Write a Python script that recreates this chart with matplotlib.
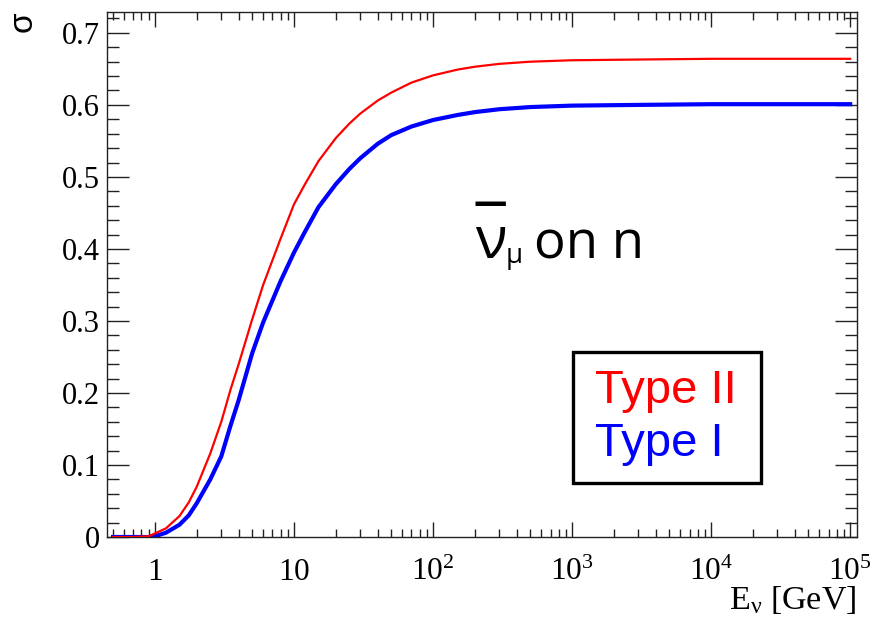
import matplotlib
matplotlib.use("Agg")
import matplotlib.pyplot as plt
from matplotlib.ticker import FixedLocator, MultipleLocator, NullFormatter

# ---- data ----
energy = [0.5, 0.7, 0.9, 1.0, 1.2, 1.5, 1.75, 2.0, 2.5, 3.0, 3.5, 4.0, 5.0, 6.0,
          8.0, 10, 12, 15, 20, 25, 30, 40, 50, 70, 100, 150, 200, 300, 500,
          1000, 3000, 1e4, 1e5]
sigma_type2 = [0.0, 0.0, 0.001, 0.005, 0.012, 0.029, 0.048, 0.07, 0.116, 0.16,
               0.205, 0.24, 0.302, 0.35, 0.414, 0.462, 0.49, 0.522, 0.554, 0.574,
               0.588, 0.606, 0.617, 0.631, 0.641, 0.649, 0.653, 0.657, 0.660,
               0.662, 0.663, 0.664, 0.664]
sigma_type1 = [0.0, 0.0, 0.0, 0.001, 0.006, 0.017, 0.03, 0.047, 0.08, 0.112,
               0.155, 0.19, 0.255, 0.298, 0.355, 0.395, 0.424, 0.458, 0.49,
               0.511, 0.526, 0.546, 0.558, 0.57, 0.579, 0.586, 0.59, 0.594,
               0.597, 0.599, 0.600, 0.601, 0.601]
series_labels = ["Type II", "Type I"]
xtick_values = [1, 10, 100, 1e3, 1e4, 1e5]
xtick_labels = [r"$\mathregular{1}$", r"$\mathregular{10}$", r"$\mathregular{10^{2}}$",
                r"$\mathregular{10^{3}}$", r"$\mathregular{10^{4}}$", r"$\mathregular{10^{5}}$"]
ytick_values = [0, 0.1, 0.2, 0.3, 0.4, 0.5, 0.6, 0.7]
ytick_labels = ["0", "0.1", "0.2", "0.3", "0.4", "0.5", "0.6", "0.7"]

plt.rcParams["mathtext.fontset"] = "custom"
plt.rcParams["mathtext.rm"] = "Liberation Serif"
plt.rcParams["mathtext.it"] = "Liberation Serif:italic"
plt.rcParams["mathtext.sf"] = "Open Sans"

fig = plt.figure(figsize=(8.8, 6.2), dpi=100)
ax = fig.add_axes([107 / 880, 1 - 537 / 620, 750 / 880, 525 / 620])

ax.plot(energy, sigma_type1, color="#0000ff", lw=3.0, label=series_labels[1], zorder=2)
ax.plot(energy, sigma_type2, color="#ff0000", lw=1.6, label=series_labels[0], zorder=3)

ax.set_xscale("log")
ax.set_xlim(0.452, 1.12e5)
ax.set_ylim(0, 0.729)

ax.xaxis.set_major_locator(FixedLocator(xtick_values))
ax.set_xticklabels(xtick_labels)
ax.xaxis.set_minor_locator(FixedLocator(
    [m * 10.0 ** e for e in range(-1, 5) for m in range(2, 10)]))
ax.xaxis.set_minor_formatter(NullFormatter())
ax.set_yticks(ytick_values)
ax.set_yticklabels(ytick_labels)
ax.yaxis.set_minor_locator(MultipleLocator(0.02))

for s in ax.spines.values():
    s.set_linewidth(1.0)
    s.set_color("#222222")

ax.tick_params(axis="both", which="both", direction="in", top=True, right=True,
               colors="#222222", width=1.0, labelcolor="black",
               labelfontfamily="Liberation Serif")
ax.tick_params(axis="y", which="major", length=16, labelsize=22, pad=5)
ax.tick_params(axis="y", which="minor", length=8.5)
ax.tick_params(axis="x", which="major", length=11, labelsize=22.5, pad=31)
ax.tick_params(axis="x", which="minor", length=5.5)
for lab in ax.get_xticklabels():
    lab.set_verticalalignment("baseline")

# axis titles
fig.text(856 / 880, 1 - 609 / 620, r"E$_{\mathregular{\nu}}$ [GeV]", ha="right",
         va="baseline", fontsize=24.5, family="Liberation Serif")
fig.text(23 / 880, 1 - 22 / 620, "σ", rotation=90, ha="center", va="center",
         fontsize=24, family="Liberation Sans")

# annotation  anti-nu_mu on n  (bar and nu in one two-line text)
ax.text(0.4907, 0.5314, "\u203e\nν", transform=ax.transAxes, ha="left",
        va="baseline", fontsize=42, linespacing=-0.04,
        family=["Open Sans", "DejaVu Sans"])
ax.text(0.5320, 0.522, "μ", transform=ax.transAxes, ha="left", va="baseline",
        fontsize=20, family="Open Sans")
ax.text(0.5693, 0.5314, "on n", transform=ax.transAxes, ha="left", va="baseline",
        fontsize=38, family="Open Sans")

# legend box
handles, labels = ax.get_legend_handles_labels()
leg = ax.legend(handles[::-1], labels[::-1], loc="upper left",
                bbox_to_anchor=(0.6213, 0.101, 0.2507, 0.2514), mode="expand",
                frameon=True, fancybox=False,
                edgecolor="black", framealpha=1, handlelength=0, handletextpad=0.11,
                borderpad=0.36, labelspacing=0.2, borderaxespad=0,
                prop={"family": "Liberation Sans", "size": 34},
                labelcolor="linecolor")
leg.get_frame().set_linewidth(2.4)
for h in leg.legend_handles:
    h.set_visible(False)

fig.savefig("out.png", dpi=100)
